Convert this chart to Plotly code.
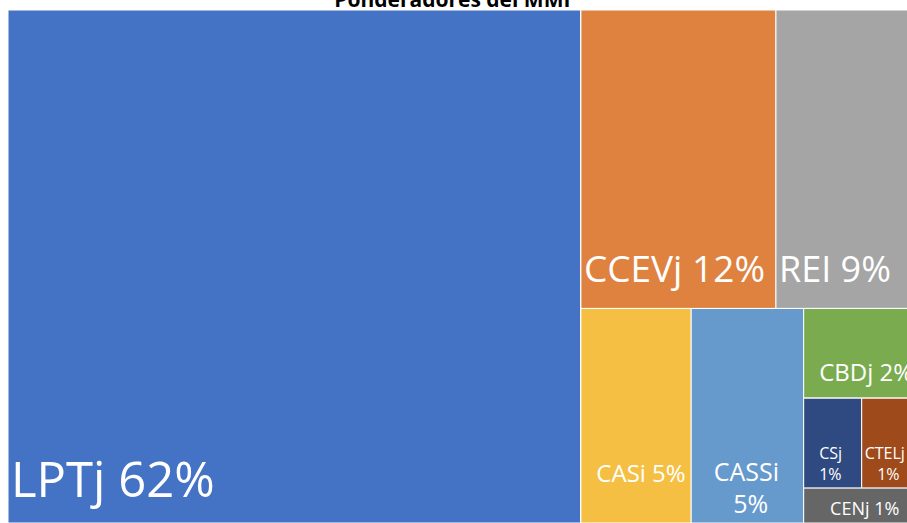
import plotly.graph_objects as go

# Data (weights in %)
names = ["LPTj", "CCEVj", "REI", "CASi", "CASSi", "CBDj", "CSj", "CTELj", "CENj"]
weights = [62.1, 12.3, 9.4, 5.0, 5.1, 2.3, 1.1, 1.2, 0.9]
title_text = "Ponderadores del MMI"

# Colours (Office palette as seen in the reference)
colors_map = {
    "LPTj": "#4472C4", "CCEVj": "#E0823F", "REI": "#A5A5A5",
    "CASi": "#F4BF42", "CASSi": "#6699CC", "CBDj": "#7AAB4F",
    "CSj": "#2F4A80", "CTELj": "#9E4A1A", "CENj": "#666666",
}
# label styling: font size, extra lift above the bottom (px), indent (nbsp) per line, wrap
label_style = {
    "LPTj":  dict(size=49, lift=9.5, indent=[0]),
    "CCEVj": dict(size=37, lift=13, indent=[0]),
    "REI":   dict(size=36, lift=13, indent=[0]),
    "CASi":  dict(size=24, lift=31, indent=[2]),
    "CASSi": dict(size=25, lift=0, indent=[3, 6]),
    "CBDj":  dict(size=24, lift=7, indent=[2]),
    "CSj":   dict(size=16, lift=0, indent=[3, 3]),
    "CTELj": dict(size=16, lift=0, indent=[0, 3]),
    "CENj":  dict(size=18, lift=0, indent=[5]),
}
NB = "\u00a0"
DESC = 0.293  # font descent (em)
LS = 1.3      # plotly line spacing (em)


def make_label(name, value):
    st = label_style[name]
    pct = f"{value:.0f}%"
    lines = [name, pct] if len(st["indent"]) == 2 else [f"{name} {pct}"]
    lines = [NB * n + ln for n, ln in zip(st["indent"], lines)]
    S = st["size"]
    if st["lift"] > 0:
        base = (st["lift"] + DESC * S) / (LS + DESC)
        body = "<br>".join(f"<span style='font-size:{S}px'>{ln}</span>" for ln in lines)
        return body + "<br>" + NB, base
    return "<br>".join(lines), S


# Grouping that reproduces the Excel-like nested layout
structure = [
    ("root", ""),
    ("LPTj", "root"),
    ("g_right", "root"),
    ("g_top", "g_right"),
    ("CCEVj", "g_top"),
    ("REI", "g_top"),
    ("g_bottom", "g_right"),
    ("CASi", "g_bottom"),
    ("CASSi", "g_bottom"),
    ("g_col", "g_bottom"),
    ("CBDj", "g_col"),
    ("g_pair", "g_col"),
    ("CSj", "g_pair"),
    ("CTELj", "g_pair"),
    ("CENj", "g_col"),
]

wmap = dict(zip(names, weights))
ids, parents, labels, values, texts, cols, sizes = [], [], [], [], [], [], []
for nid, par in structure:
    ids.append(nid)
    parents.append(par)
    if nid in wmap:
        v = wmap[nid]
        labels.append(nid)
        values.append(v)
        t, s = make_label(nid, v)
        texts.append(t)
        sizes.append(s)
        cols.append(colors_map[nid])
    else:
        labels.append("")
        values.append(0)
        texts.append("")
        cols.append("#FFFFFF")
        sizes.append(10)

fig = go.Figure(go.Treemap(
    ids=ids, labels=labels, parents=parents, values=values,
    branchvalues="remainder", sort=False,
    text=texts, textinfo="text",
    textposition="bottom left",
    textfont=dict(family="Open Sans", color="white", size=sizes),
    marker=dict(colors=cols, line=dict(color="white", width=1),
                pad=dict(t=0, l=0, r=0, b=0), depthfade=False),
    tiling=dict(packing="slice-dice", pad=0),
    pathbar=dict(visible=False),
    root=dict(color="white"),
    hoverinfo="label+value",
))

fig.update_layout(
    width=925, height=523,
    margin=dict(l=8, r=0, t=10, b=0),
    paper_bgcolor="white",
    title=dict(text=f"<b>{title_text}</b>", x=0.489, xref="container", xanchor="center",
               y=1.0, yref="container", yanchor="middle",
               font=dict(family="Open Sans", size=21, color="black")),
)

fig.write_html("out.html", config={"displayModeBar": False},
               post_script="document.body.style.margin='0';document.body.style.overflow='hidden';")
